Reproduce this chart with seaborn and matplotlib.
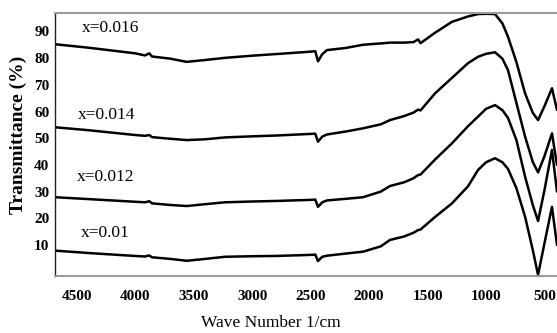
import matplotlib
matplotlib.use("Agg")
import matplotlib.pyplot as plt
import numpy as np
import pandas as pd
import seaborn as sns

# FTIR spectra, transmittance (%) against wave number (1/cm)
wavenumber = [4686, 4400, 4001, 3916, 3880, 3856, 3700, 3560, 3400, 3232,
              3000, 2800, 2505, 2460, 2437, 2400, 2360, 2200, 2052, 1900,
              1821, 1700, 1620, 1581, 1560, 1436, 1291, 1154, 1068, 1000,
              923, 860, 812, 740, 666, 600, 555, 500, 436, 393]

t_016 = [85.2, 83.9, 81.8, 81.0, 81.8, 80.6, 79.8, 78.6, 79.3, 80.1,
         80.9, 81.5, 82.4, 82.6, 78.8, 81.5, 83.0, 83.8, 85.0, 85.5,
         85.8, 85.8, 86.0, 87.0, 85.6, 89.5, 93.6, 95.6, 96.5, 96.6,
         96.5, 93.0, 88.0, 78.5, 66.8, 59.5, 56.8, 62.0, 68.7, 60.6]

t_014 = [54.1, 53.0, 51.2, 50.9, 51.2, 50.4, 49.8, 49.3, 49.6, 50.3,
         50.7, 51.0, 51.6, 51.7, 48.7, 50.6, 51.4, 52.5, 53.7, 55.2,
         56.8, 58.3, 59.6, 60.7, 60.4, 66.8, 72.6, 78.1, 80.5, 81.6,
         82.2, 79.8, 75.5, 63.2, 50.6, 41.1, 37.2, 43.3, 51.8, 40.0]

t_012 = [27.9, 27.2, 26.2, 26.0, 26.4, 25.6, 25.0, 24.6, 25.3, 26.0,
         26.3, 26.5, 26.9, 27.0, 24.3, 26.0, 26.7, 27.3, 27.9, 30.0,
         32.1, 33.5, 35.0, 36.2, 36.4, 42.0, 48.1, 54.5, 58.1, 61.0,
         62.4, 60.5, 57.6, 49.3, 35.6, 25.0, 19.0, 30.6, 45.6, 30.0]

t_010 = [7.9, 7.0, 5.9, 5.7, 6.1, 5.4, 4.8, 4.1, 4.8, 5.6,
         5.8, 5.9, 6.3, 6.4, 4.0, 5.6, 6.0, 6.8, 7.5, 9.5,
         11.9, 13.2, 14.6, 15.6, 15.8, 20.5, 25.6, 32.0, 38.1, 41.0,
         42.5, 41.0, 38.5, 31.3, 20.6, 8.1, -1.2, 10.7, 24.3, 10.0]

compositions = ["x=0.016", "x=0.014", "x=0.012", "x=0.01"]
series = [t_016, t_014, t_012, t_010]

# label anchor points (wave number, transmittance)
label_wn = [4207, 4244, 4249, 4258]
label_t = [91.3, 58.7, 35.6, 14.4]

y_ticks = [10, 20, 30, 40, 50, 60, 70, 80, 90]
x_ticks = [4500, 4000, 3500, 3000, 2500, 2000, 1500, 1000, 500]

frames = []
for name, vals in zip(compositions, series):
    frames.append(pd.DataFrame({"wavenumber": wavenumber,
                                "transmittance": vals,
                                "composition": name}))
df = pd.concat(frames, ignore_index=True)

sns.set_theme(style="white")
plt.rcParams["font.family"] = ["Liberation Serif", "DejaVu Serif"]

fig = plt.figure(figsize=(5.57, 3.33), dpi=100)
ax = fig.add_axes([0.0987, 0.1712, 0.9013, 0.7898])

sns.lineplot(data=df, x="wavenumber", y="transmittance", hue="composition",
             palette=["black"] * 4, estimator=None, sort=False,
             legend=False, linewidth=1.8, ax=ax)

ax.set_xlim(4686, 393)
ax.set_ylim(-1.6, 96.9)
ax.set_xticks(x_ticks)
ax.set_xticklabels([str(t) for t in x_ticks], fontweight="bold", fontsize=11)
ax.set_yticks(y_ticks)
ax.set_yticklabels([str(t) for t in y_ticks], fontweight="bold", fontsize=11)
ax.tick_params(axis="both", length=0, colors="black")
ax.tick_params(axis="x", pad=10)
ax.tick_params(axis="y", pad=4)

for name, wx, ty in zip(compositions, label_wn, label_t):
    ax.text(wx, ty, name, ha="center", va="center", fontsize=12.5,
            color="black")

ax.set_xlabel("Wave Number 1/cm", fontsize=12.5, color="black")
ax.xaxis.set_label_coords(0.43, -0.148)
ax.set_ylabel("Transmittance (%)", fontsize=14, fontweight="bold",
              color="black")
ax.yaxis.set_label_coords(-0.056, 0.535)

ax.spines["left"].set_color("#222222")
ax.spines["left"].set_linewidth(1.0)
for side in ("top", "bottom"):
    ax.spines[side].set_color("#9a9a9a")
    ax.spines[side].set_linewidth(1.5)
ax.spines["right"].set_visible(False)

fig.savefig("out.png", dpi=100)
